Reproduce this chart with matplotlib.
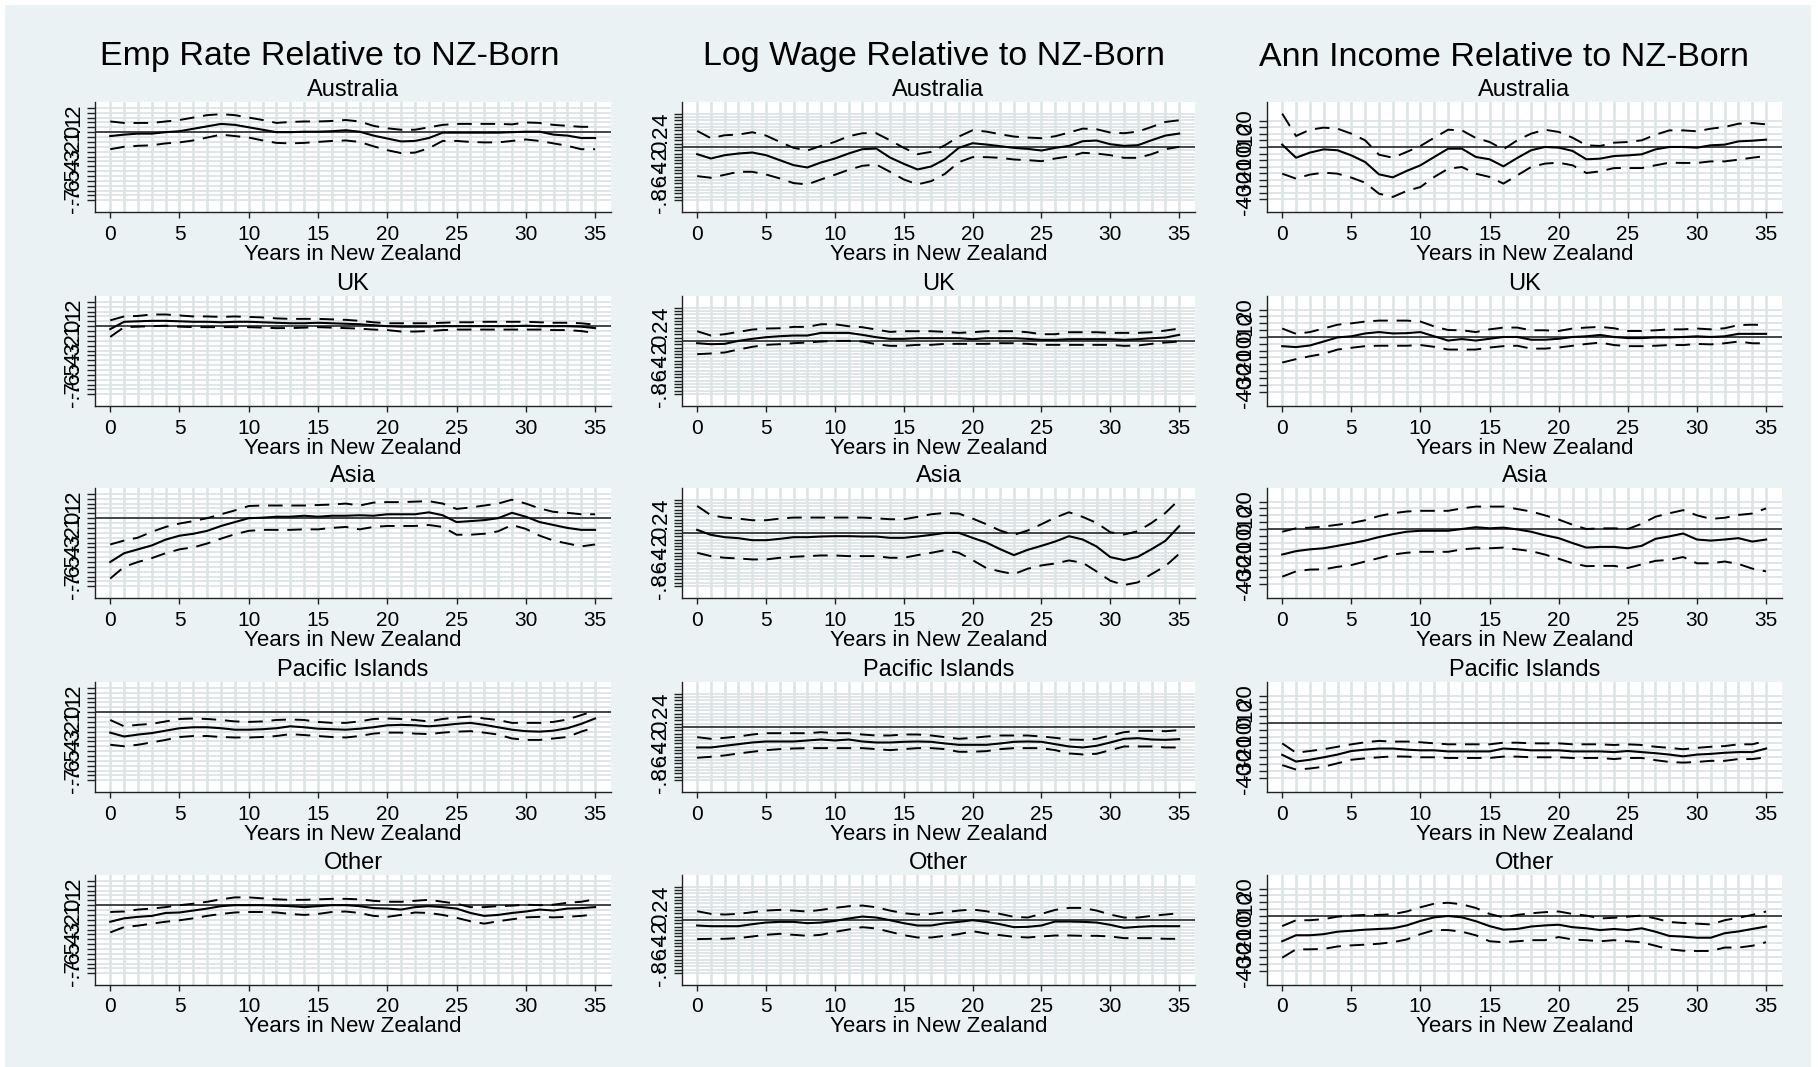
import numpy as np
import matplotlib.pyplot as plt
from matplotlib.patches import Rectangle

years = np.arange(0, 36)

# ---- Emp rate relative to NZ-born (mean, upper CI, lower CI) ----
emp_aus_mid = [-0.04, -0.025, -0.015, -0.015, 0.0, 0.01, 0.035, 0.06, 0.085, 0.075, 0.05, 0.025, 0.0, 0.0, 0.005, 0.005, 0.01, 0.02,
               0.005, -0.035, -0.065, -0.095, -0.09, -0.06, -0.005, -0.005, -0.005, -0.005, -0.005, 0.0, 0.005, 0.005, -0.025, -0.035, -0.06, -0.06]
emp_aus_hi = [0.11, 0.095, 0.095, 0.095, 0.11, 0.125, 0.15, 0.175, 0.185, 0.175, 0.15, 0.125, 0.095, 0.105, 0.11, 0.11, 0.115, 0.125,
              0.11, 0.065, 0.04, 0.025, 0.025, 0.05, 0.075, 0.085, 0.085, 0.085, 0.085, 0.08, 0.1, 0.095, 0.075, 0.065, 0.055, 0.055]
emp_aus_lo = [-0.175, -0.15, -0.14, -0.135, -0.115, -0.105, -0.085, -0.055, -0.025, -0.04, -0.055, -0.085, -0.11, -0.115, -0.11, -0.1, -0.09, -0.085,
              -0.1, -0.145, -0.185, -0.215, -0.21, -0.165, -0.09, -0.09, -0.1, -0.105, -0.105, -0.09, -0.075, -0.09, -0.115, -0.14, -0.175, -0.175]

emp_uk_mid = [-0.03, 0.045, 0.05, 0.055, 0.055, 0.05, 0.045, 0.045, 0.04, 0.045, 0.045, 0.04, 0.035, 0.03, 0.03, 0.035, 0.03, 0.025,
              0.02, 0.01, 0.0, -0.005, -0.005, -0.005, 0.0, 0.0, 0.0, 0.0, 0.0, 0.0, 0.005, 0.0, 0.0, 0.0, -0.005, -0.02]
emp_uk_hi = [0.06, 0.1, 0.105, 0.12, 0.12, 0.11, 0.1, 0.1, 0.095, 0.1, 0.095, 0.09, 0.08, 0.075, 0.075, 0.075, 0.07, 0.065,
             0.055, 0.04, 0.03, 0.03, 0.03, 0.03, 0.035, 0.04, 0.04, 0.045, 0.045, 0.045, 0.045, 0.04, 0.035, 0.035, 0.03, 0.015]
emp_uk_lo = [-0.11, -0.01, -0.005, 0.0, 0.005, -0.005, -0.01, -0.01, -0.01, -0.01, -0.01, -0.015, -0.02, -0.02, -0.015, -0.01, -0.015, -0.02,
             -0.025, -0.035, -0.04, -0.055, -0.055, -0.05, -0.04, -0.035, -0.035, -0.035, -0.035, -0.035, -0.035, -0.035, -0.04, -0.04, -0.05, -0.07]

emp_asia_mid = [-0.45, -0.36, -0.32, -0.28, -0.22, -0.18, -0.16, -0.13, -0.08, -0.04, 0.0, 0.005, 0.015, 0.015, 0.025, 0.015, 0.025, 0.025,
                0.03, 0.025, 0.04, 0.04, 0.04, 0.06, 0.03, -0.04, -0.03, -0.02, 0.0, 0.055, 0.015, -0.04, -0.07, -0.1, -0.12, -0.12]
emp_asia_hi = [-0.27, -0.23, -0.2, -0.14, -0.09, -0.055, -0.03, 0.0, 0.04, 0.08, 0.125, 0.13, 0.13, 0.13, 0.13, 0.135, 0.14, 0.15,
               0.13, 0.16, 0.165, 0.165, 0.17, 0.175, 0.15, 0.095, 0.11, 0.13, 0.15, 0.19, 0.15, 0.1, 0.065, 0.055, 0.04, 0.04]
emp_asia_lo = [-0.62, -0.5, -0.45, -0.41, -0.36, -0.32, -0.3, -0.26, -0.21, -0.165, -0.13, -0.12, -0.12, -0.12, -0.115, -0.115, -0.1, -0.09,
               -0.115, -0.09, -0.08, -0.08, -0.08, -0.07, -0.09, -0.17, -0.17, -0.16, -0.135, -0.07, -0.11, -0.18, -0.23, -0.26, -0.29, -0.27]

emp_pac_mid = [-0.21, -0.25, -0.23, -0.215, -0.19, -0.165, -0.155, -0.155, -0.165, -0.18, -0.18, -0.175, -0.165, -0.145, -0.155, -0.17, -0.175, -0.18,
               -0.17, -0.155, -0.135, -0.13, -0.135, -0.145, -0.135, -0.12, -0.11, -0.13, -0.155, -0.18, -0.195, -0.2, -0.19, -0.165, -0.12, -0.065]
emp_pac_hi = [-0.08, -0.145, -0.13, -0.12, -0.095, -0.07, -0.065, -0.07, -0.08, -0.095, -0.1, -0.095, -0.08, -0.075, -0.08, -0.1, -0.11, -0.11,
              -0.095, -0.07, -0.065, -0.07, -0.08, -0.095, -0.07, -0.055, -0.045, -0.065, -0.08, -0.11, -0.11, -0.11, -0.1, -0.075, -0.03, 0.015]
emp_pac_lo = [-0.335, -0.35, -0.335, -0.31, -0.285, -0.255, -0.245, -0.245, -0.255, -0.26, -0.26, -0.255, -0.245, -0.225, -0.235, -0.245, -0.255, -0.26,
              -0.245, -0.22, -0.21, -0.21, -0.22, -0.225, -0.21, -0.2, -0.195, -0.21, -0.23, -0.27, -0.285, -0.285, -0.27, -0.255, -0.2, -0.155]

emp_oth_mid = [-0.17, -0.135, -0.12, -0.11, -0.08, -0.075, -0.055, -0.035, -0.01, 0.0, 0.0, 0.0, -0.005, -0.01, -0.02, -0.01, 0.0, 0.0,
               -0.01, -0.03, -0.035, -0.045, -0.02, -0.01, -0.02, -0.035, -0.08, -0.11, -0.1, -0.08, -0.065, -0.045, -0.055, -0.035, -0.03, -0.02]
emp_oth_hi = [-0.07, -0.065, -0.045, -0.035, -0.02, 0.0, 0.015, 0.035, 0.06, 0.08, 0.08, 0.07, 0.06, 0.055, 0.055, 0.06, 0.065, 0.065,
              0.06, 0.045, 0.035, 0.035, 0.045, 0.055, 0.035, 0.015, -0.02, -0.02, -0.01, -0.005, 0.005, 0.0, 0.005, 0.025, 0.035, 0.06]
emp_oth_lo = [-0.28, -0.225, -0.21, -0.19, -0.17, -0.155, -0.135, -0.11, -0.09, -0.075, -0.07, -0.07, -0.075, -0.09, -0.1, -0.09, -0.07, -0.065,
              -0.08, -0.11, -0.12, -0.1, -0.075, -0.08, -0.1, -0.13, -0.165, -0.19, -0.165, -0.145, -0.125, -0.12, -0.125, -0.12, -0.11, -0.095]

# ---- Log wage relative to NZ-born ----
wage_aus_mid = [-0.11, -0.175, -0.125, -0.1, -0.085, -0.125, -0.2, -0.275, -0.31, -0.235, -0.175, -0.1, -0.035, -0.025, -0.16, -0.255, -0.34, -0.295,
                -0.185, -0.015, 0.055, 0.035, 0.01, -0.015, -0.03, -0.055, -0.015, 0.015, 0.085, 0.095, 0.04, 0.015, 0.025, 0.1, 0.17, 0.2]
wage_aus_hi = [0.24, 0.13, 0.175, 0.185, 0.22, 0.17, 0.075, -0.015, -0.055, 0.015, 0.075, 0.16, 0.205, 0.205, 0.1, -0.015, -0.11, -0.075,
               0.025, 0.155, 0.25, 0.23, 0.19, 0.155, 0.14, 0.13, 0.16, 0.215, 0.275, 0.265, 0.215, 0.205, 0.23, 0.3, 0.375, 0.4]
wage_aus_lo = [-0.44, -0.465, -0.42, -0.375, -0.375, -0.415, -0.475, -0.545, -0.565, -0.49, -0.42, -0.345, -0.285, -0.265, -0.375, -0.49, -0.565, -0.515,
               -0.405, -0.23, -0.155, -0.155, -0.165, -0.19, -0.2, -0.215, -0.175, -0.145, -0.09, -0.1, -0.125, -0.165, -0.165, -0.11, -0.035, 0.0]

wage_uk_mid = [-0.035, -0.05, -0.045, 0.0, 0.03, 0.055, 0.07, 0.08, 0.08, 0.12, 0.12, 0.12, 0.09, 0.055, 0.03, 0.03, 0.04, 0.04,
               0.04, 0.04, 0.025, 0.04, 0.04, 0.04, 0.03, 0.015, 0.015, 0.025, 0.025, 0.025, 0.025, 0.015, 0.025, 0.04, 0.05, 0.09]
wage_uk_hi = [0.145, 0.08, 0.1, 0.135, 0.17, 0.185, 0.19, 0.21, 0.21, 0.25, 0.25, 0.22, 0.205, 0.17, 0.135, 0.145, 0.145, 0.145,
              0.135, 0.12, 0.13, 0.145, 0.145, 0.145, 0.13, 0.1, 0.1, 0.13, 0.13, 0.13, 0.12, 0.12, 0.12, 0.13, 0.155, 0.185]
wage_uk_lo = [-0.2, -0.19, -0.175, -0.13, -0.09, -0.06, -0.05, -0.035, -0.025, -0.01, 0.0, 0.0, -0.01, -0.05, -0.075, -0.075, -0.06, -0.06,
              -0.045, -0.045, -0.045, -0.045, -0.035, -0.035, -0.045, -0.06, -0.06, -0.06, -0.06, -0.06, -0.06, -0.075, -0.07, -0.045, -0.025, -0.01]

wage_asia_mid = [0.045, -0.03, -0.065, -0.08, -0.11, -0.11, -0.09, -0.065, -0.065, -0.055, -0.05, -0.05, -0.055, -0.055, -0.075, -0.075, -0.055, -0.03,
                 0.0, 0.0, -0.075, -0.145, -0.245, -0.335, -0.255, -0.195, -0.13, -0.05, -0.1, -0.205, -0.365, -0.41, -0.36, -0.245, -0.12, 0.1]
wage_asia_hi = [0.405, 0.265, 0.23, 0.215, 0.19, 0.19, 0.215, 0.23, 0.23, 0.23, 0.23, 0.23, 0.23, 0.22, 0.205, 0.205, 0.24, 0.28,
                0.3, 0.29, 0.215, 0.13, 0.035, -0.03, 0.035, 0.13, 0.23, 0.31, 0.24, 0.15, 0.01, -0.025, 0.025, 0.15, 0.3, 0.5]
wage_asia_lo = [-0.3, -0.35, -0.375, -0.385, -0.4, -0.4, -0.375, -0.36, -0.35, -0.34, -0.34, -0.35, -0.35, -0.35, -0.375, -0.375, -0.335, -0.3,
                -0.26, -0.3, -0.41, -0.53, -0.58, -0.62, -0.54, -0.49, -0.46, -0.415, -0.45, -0.58, -0.72, -0.785, -0.745, -0.62, -0.5, -0.315]

wage_pac_mid = [-0.31, -0.31, -0.285, -0.26, -0.235, -0.22, -0.22, -0.22, -0.205, -0.19, -0.205, -0.19, -0.22, -0.235, -0.235, -0.225, -0.22, -0.225,
                -0.25, -0.27, -0.27, -0.27, -0.25, -0.225, -0.22, -0.225, -0.26, -0.295, -0.31, -0.285, -0.235, -0.18, -0.17, -0.19, -0.195, -0.185]
wage_pac_hi = [-0.155, -0.18, -0.165, -0.145, -0.115, -0.095, -0.095, -0.095, -0.095, -0.08, -0.095, -0.095, -0.115, -0.13, -0.13, -0.115, -0.115, -0.13,
               -0.155, -0.18, -0.165, -0.145, -0.13, -0.13, -0.13, -0.145, -0.165, -0.19, -0.195, -0.18, -0.13, -0.08, -0.06, -0.06, -0.065, -0.05]
wage_pac_lo = [-0.465, -0.45, -0.43, -0.4, -0.375, -0.35, -0.335, -0.325, -0.32, -0.32, -0.32, -0.32, -0.32, -0.335, -0.35, -0.335, -0.32, -0.32,
               -0.335, -0.375, -0.375, -0.365, -0.335, -0.32, -0.32, -0.32, -0.35, -0.4, -0.415, -0.405, -0.35, -0.295, -0.295, -0.295, -0.31, -0.31]

wage_oth_mid = [-0.085, -0.095, -0.095, -0.095, -0.065, -0.04, -0.03, -0.03, -0.05, -0.04, -0.015, 0.02, 0.05, 0.035, -0.005, -0.05, -0.085, -0.085,
                -0.05, -0.03, -0.005, -0.03, -0.065, -0.11, -0.105, -0.085, -0.025, -0.025, -0.03, -0.04, -0.075, -0.12, -0.105, -0.095, -0.095, -0.095]
wage_oth_hi = [0.13, 0.09, 0.08, 0.09, 0.115, 0.14, 0.15, 0.14, 0.125, 0.15, 0.18, 0.205, 0.215, 0.19, 0.14, 0.1, 0.08, 0.09,
               0.115, 0.14, 0.155, 0.13, 0.09, 0.045, 0.035, 0.09, 0.15, 0.18, 0.18, 0.14, 0.08, 0.035, 0.035, 0.06, 0.08, 0.1]
wage_oth_lo = [-0.29, -0.285, -0.285, -0.275, -0.25, -0.225, -0.21, -0.225, -0.24, -0.225, -0.18, -0.145, -0.11, -0.13, -0.18, -0.23, -0.265, -0.265,
               -0.24, -0.215, -0.17, -0.205, -0.23, -0.255, -0.265, -0.25, -0.235, -0.235, -0.24, -0.24, -0.25, -0.275, -0.275, -0.275, -0.285, -0.285]

# ---- Annual income relative to NZ-born ----
inc_aus_mid = [1.8, -8.2, -4.3, -1.8, -2.5, -6.4, -11.5, -20.9, -23.2, -18.3, -14.0, -7.6, -1.3, -1.3, -7.6, -9.4, -14.8, -8.4,
               -2.5, 0.0, -0.5, -3.0, -9.4, -8.9, -6.9, -6.4, -5.6, -1.8, 0.0, 0.0, -0.5, 1.3, 1.8, 4.3, 4.8, 5.6]
inc_aus_hi = [25.5, 8.4, 13.2, 14.8, 14.0, 10.2, 5.1, -5.9, -8.2, -3.8, 0.8, 7.1, 13.2, 12.7, 6.9, 3.8, -1.8, 5.1,
              10.2, 13.2, 11.5, 7.1, 1.3, 0.8, 3.3, 3.8, 5.1, 9.4, 12.7, 12.7, 12.0, 14.0, 15.3, 17.8, 18.3, 17.3]
inc_aus_lo = [-20.4, -24.2, -21.1, -19.6, -20.4, -23.4, -27.3, -35.7, -38.2, -33.6, -30.6, -22.9, -16.6, -15.3, -20.4, -22.9, -28.0, -21.7,
              -15.3, -12.7, -12.0, -14.0, -19.9, -18.6, -16.1, -16.1, -16.1, -14.0, -12.0, -12.2, -12.2, -11.0, -11.0, -9.7, -8.2, -6.9]

inc_uk_mid = [-6.7, -7.4, -6.2, -3.3, -0.3, 0.5, 2.6, 3.6, 2.6, 2.8, 3.6, 0.5, -2.6, -1.5, -2.6, -1.3, 0.0, 0.0,
              -2.0, -2.0, -1.3, 0.0, 0.5, 1.5, 0.0, -0.8, -0.8, -0.3, -0.3, 0.0, 0.5, 0.0, 0.5, 2.3, 2.3, 2.3]
inc_uk_hi = [6.2, 2.3, 3.6, 6.2, 9.0, 10.0, 11.3, 12.0, 12.0, 12.0, 11.3, 7.7, 5.1, 4.9, 3.6, 5.6, 6.9, 6.9,
             4.9, 4.9, 4.4, 6.2, 6.9, 7.4, 6.4, 4.4, 4.4, 4.9, 5.6, 5.6, 6.2, 5.6, 6.4, 8.7, 9.0, 8.7]
inc_uk_lo = [-18.7, -16.2, -14.1, -12.3, -9.2, -7.9, -6.7, -6.4, -6.4, -6.4, -5.9, -7.2, -9.2, -9.2, -9.2, -7.7, -6.7, -6.4,
             -8.5, -8.5, -7.7, -6.4, -5.1, -4.1, -5.9, -6.7, -6.7, -6.4, -5.9, -5.9, -5.1, -5.4, -4.6, -3.3, -4.6, -4.6]

inc_asia_mid = [-18.7, -16.2, -14.9, -14.1, -12.3, -10.5, -8.5, -5.9, -3.8, -2.0, -1.3, -1.3, -1.3, 0.0, 1.3, 0.5, 1.0, -0.3,
                -2.0, -4.6, -6.7, -10.3, -13.6, -13.1, -13.1, -14.1, -12.3, -7.2, -5.4, -3.3, -7.7, -8.5, -7.7, -6.7, -9.2, -7.7]
inc_asia_hi = [-2.0, 0.5, 1.0, 1.8, 3.1, 4.4, 6.4, 9.5, 11.5, 12.8, 13.3, 13.3, 13.3, 15.1, 16.4, 16.4, 16.4, 14.6,
               12.8, 10.0, 6.9, 3.1, 0.0, 0.5, 0.5, 0.0, 3.8, 9.0, 11.5, 13.8, 10.0, 7.4, 8.2, 10.3, 11.3, 15.1]
inc_asia_lo = [-34.9, -31.0, -29.7, -29.5, -27.7, -26.4, -23.8, -21.3, -18.7, -17.4, -16.7, -16.7, -16.7, -14.9, -14.1, -14.1, -13.6, -14.9,
               -16.2, -18.7, -21.8, -25.1, -27.2, -27.0, -27.0, -28.5, -25.9, -23.3, -22.6, -20.5, -25.1, -25.1, -23.8, -25.6, -29.0, -31.0]

inc_pac_mid = [-23.3, -28.2, -26.9, -25.1, -23.1, -20.5, -19.5, -18.7, -18.7, -19.5, -20.0, -20.0, -20.8, -20.8, -20.8, -20.8, -18.7, -19.2,
               -20.0, -20.0, -20.0, -20.8, -20.8, -20.8, -21.3, -20.5, -21.3, -22.1, -23.1, -24.4, -23.1, -22.6, -21.8, -21.3, -21.3, -18.7]
inc_pac_hi = [-14.9, -21.8, -20.5, -19.2, -17.4, -15.6, -14.1, -13.1, -13.6, -13.6, -14.1, -14.9, -15.6, -15.6, -15.6, -15.6, -14.4, -14.4,
              -14.9, -14.9, -14.9, -15.6, -15.6, -15.6, -16.1, -15.6, -16.1, -17.4, -18.2, -19.2, -18.2, -17.4, -16.9, -15.6, -15.6, -13.1]
inc_pac_lo = [-30.8, -34.1, -33.3, -32.0, -29.5, -26.9, -25.9, -25.1, -24.4, -24.6, -25.1, -25.1, -25.6, -25.6, -25.6, -25.6, -24.6, -24.6,
              -25.1, -25.1, -25.1, -25.6, -25.6, -25.6, -26.4, -25.6, -25.6, -27.2, -28.5, -29.0, -28.5, -27.7, -27.7, -26.4, -26.4, -25.1]

inc_oth_mid = [-18.5, -14.1, -14.1, -13.3, -11.5, -10.8, -10.0, -9.5, -9.0, -6.9, -3.6, -1.0, 0.0, -1.0, -3.8, -7.4, -10.0, -9.5,
               -7.7, -6.9, -6.4, -8.2, -9.0, -10.3, -9.5, -10.3, -9.0, -11.5, -14.6, -15.1, -15.9, -15.9, -12.6, -11.3, -9.5, -7.7]
inc_oth_hi = [-7.4, -3.1, -3.1, -2.3, -0.5, 0.3, 0.8, 0.8, 1.3, 3.3, 6.4, 9.0, 9.7, 8.5, 5.9, 1.5, -1.0, 0.8,
              2.0, 2.8, 3.3, 1.5, 0.3, -1.8, -1.3, -0.5, 0.3, -1.8, -4.4, -5.1, -5.6, -6.2, -3.1, -1.3, 0.8, 3.3]
inc_oth_lo = [-30.5, -24.4, -24.4, -24.1, -22.3, -21.5, -21.0, -20.3, -19.2, -17.2, -13.3, -10.3, -10.3, -11.5, -14.1, -18.5, -19.2, -18.5,
              -17.7, -17.7, -15.4, -17.2, -17.7, -18.5, -17.7, -18.5, -19.2, -21.8, -24.4, -25.4, -25.6, -25.6, -23.1, -23.1, -21.8, -19.2]

col_titles = ['Emp Rate Relative to NZ-Born', 'Log Wage Relative to NZ-Born', 'Ann Income Relative to NZ-Born']
regions = ['Australia', 'UK', 'Asia', 'Pacific Islands', 'Other']
xlabel = 'Years in New Zealand'
xticks = [0, 5, 10, 15, 20, 25, 30, 35]

emp_ticks = [-0.7, -0.6, -0.5, -0.4, -0.3, -0.2, -0.1, 0, 0.1, 0.2]
emp_labels = ['-.7', '-.6', '-.5', '-.4', '-.3', '-.2', '-.1', '0', '.1', '.2']
wage_ticks = [-0.8, -0.6, -0.4, -0.2, 0, 0.2, 0.4]
wage_labels = ['-.8', '-.6', '-.4', '-.2', '0', '.2', '.4']
inc_ticks = [-40, -30, -20, -10, 0, 10, 20]
inc_labels = ['-40', '-30', '-20', '-10', '0', '10', '20']

data = [
    [(emp_aus_mid, emp_aus_hi, emp_aus_lo), (emp_uk_mid, emp_uk_hi, emp_uk_lo), (emp_asia_mid, emp_asia_hi, emp_asia_lo),
     (emp_pac_mid, emp_pac_hi, emp_pac_lo), (emp_oth_mid, emp_oth_hi, emp_oth_lo)],
    [(wage_aus_mid, wage_aus_hi, wage_aus_lo), (wage_uk_mid, wage_uk_hi, wage_uk_lo), (wage_asia_mid, wage_asia_hi, wage_asia_lo),
     (wage_pac_mid, wage_pac_hi, wage_pac_lo), (wage_oth_mid, wage_oth_hi, wage_oth_lo)],
    [(inc_aus_mid, inc_aus_hi, inc_aus_lo), (inc_uk_mid, inc_uk_hi, inc_uk_lo), (inc_asia_mid, inc_asia_hi, inc_asia_lo),
     (inc_pac_mid, inc_pac_hi, inc_pac_lo), (inc_oth_mid, inc_oth_hi, inc_oth_lo)],
]

# axis styling per column: labelled ticks, minor step, top of minor ticks, y limits
col_axis = [
    dict(ticks=emp_ticks, labels=emp_labels, step=0.05, mtop=0.25, ylims=[(-0.82, 0.31)] * 5),
    dict(ticks=wage_ticks, labels=wage_labels, step=0.05, mtop=0.5, ylims=[(-0.98, 0.675)] * 5),
    dict(ticks=inc_ticks, labels=inc_labels, step=5, mtop=20, ylims=[(-49.7, 34.4)] + [(-50.5, 30.0)] * 4),
]

W, H = 1818, 1067
plt.rcParams['font.family'] = ['Liberation Sans', 'DejaVu Sans']

fig = plt.figure(figsize=(W / 100, H / 100), dpi=100)
fig.patch.set_facecolor('white')
fig.add_artist(Rectangle((5 / W, 0), (W - 12) / W, (H - 5) / H, transform=fig.transFigure,
                         facecolor='#eaf2f3', edgecolor='none', zorder=-5))

col_left = [95, 682, 1267]
col_right = [611, 1195, 1782]
row_top = [102, 296, 488, 682, 875]
ph = 110
title_x = [330, 934, 1504]
grid_c = '#dde4e5'

def fx(px):
    return px / W

def fy(py):
    return 1 - py / H

for c in range(3):
    fig.text(fx(title_x[c]), fy(57), col_titles[c], ha='center', va='center', fontsize=24.5)
    ca = col_axis[c]
    minor = np.arange(ca['ticks'][0], ca['mtop'] + ca['step'] / 2, ca['step'])
    for r in range(5):
        l, rr, t = col_left[c], col_right[c], row_top[r]
        ax = fig.add_axes([fx(l), fy(t + ph), fx(rr - l), ph / H])
        ax.set_facecolor('white')
        mid, hi, lo = data[c][r]
        for x in years:
            ax.axvline(x, color=grid_c, lw=1.9, zorder=0)
        for y in minor:
            ax.axhline(y, color=grid_c, lw=1.3, zorder=0)
        ax.axhline(0, color='#2a2a2a', lw=1.2, zorder=2)
        ax.plot(years, hi, color='black', lw=1.4, dashes=(7.5, 4.5), zorder=3)
        ax.plot(years, lo, color='black', lw=1.4, dashes=(7.5, 4.5), zorder=3)
        ax.plot(years, mid, color='black', lw=1.5, zorder=4)
        ax.set_xlim(-1.1, 36.15)
        ax.set_ylim(*ca['ylims'][r])
        ax.set_xticks(xticks)
        ax.set_xticklabels([str(v) for v in xticks])
        ax.set_yticks(ca['ticks'])
        ax.set_yticklabels(ca['labels'], rotation=90, va='center')
        ax.set_yticks(minor, minor=True)
        ax.tick_params(axis='x', length=4.5, width=1.0, pad=4.5, labelsize=15, color='#222222')
        ax.tick_params(axis='y', which='both', length=5.8, width=1.0, pad=2.0, labelsize=16, color='#222222')
        for s in ['top', 'right']:
            ax.spines[s].set_visible(False)
        for s in ['left', 'bottom']:
            ax.spines[s].set_linewidth(1.0)
            ax.spines[s].set_color('#222222')
        fig.text(fx((l + rr) / 2), fy(t - 12), regions[r], ha='center', va='center', fontsize=17)
        fig.text(fx((l + rr) / 2), fy(t + ph + 42), xlabel, ha='center', va='center', fontsize=16)

fig.savefig('out.png', dpi=100, facecolor=fig.get_facecolor())
